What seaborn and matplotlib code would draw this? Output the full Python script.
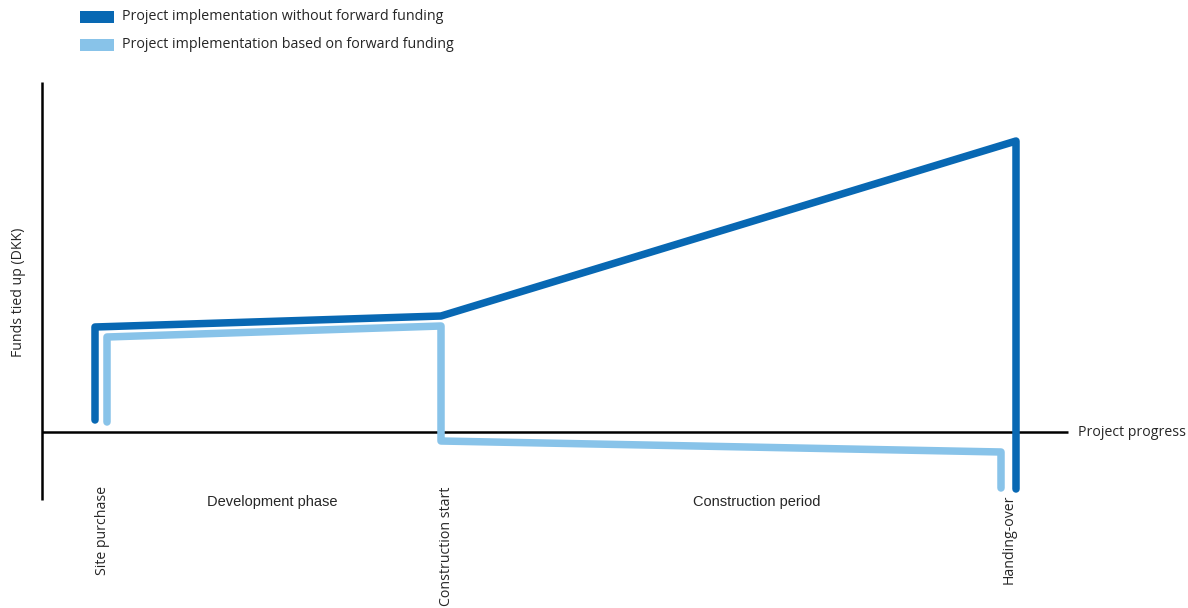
import matplotlib
matplotlib.use("Agg")
import matplotlib.pyplot as plt
import seaborn as sns
import pandas as pd
from matplotlib.patches import Rectangle

sns.set_theme(style="white")
plt.rcParams['font.family'] = ['Open Sans', 'DejaVu Sans']

# Conceptual data (progress, funds tied up); baseline = 0
without_x = [53, 53, 399, 974, 974]
without_y = [12, 105, 116, 291, -57]
forward_x = [65, 65, 399, 399, 959, 959]
forward_y = [10, 95, 106, -9, -20, -56]

milestones = ["Site purchase", "Construction start", "Handing-over"]
milestone_x = [60, 404, 967]
phases = ["Development phase", "Construction period"]
phase_x = [230, 715]
series_names = ["Project implementation without forward funding",
                "Project implementation based on forward funding"]
colors = ["#0868b3", "#88c3e9"]

fs = 10.2
label_top = [-54, -55, -62]

fig = plt.figure(figsize=(11.88, 6.08), dpi=100)
ax = fig.add_axes([0, 0, 1, 1])
ax.set_xlim(-42, 1146)
ax.set_ylim(-176, 432)
ax.axis("off")

# axes
ax.plot([0, 0], [350, -68], color="black", lw=1.8, solid_capstyle="butt")
ax.plot([0, 1026], [0, 0], color="black", lw=1.8, solid_capstyle="butt")
ax.text(1036, 0, "Project progress", ha="left", va="center", fontsize=fs)
ax.text(-23, 140, "Funds tied up (DKK)", rotation=90, ha="center", va="center", fontsize=fs)

df1 = pd.DataFrame({"x": without_x, "y": without_y})
df2 = pd.DataFrame({"x": forward_x, "y": forward_y})
sns.lineplot(data=df2, x="x", y="y", sort=False, estimator=None, ax=ax,
             color=colors[1], lw=5.4, solid_capstyle="round", solid_joinstyle="round")
sns.lineplot(data=df1, x="x", y="y", sort=False, estimator=None, ax=ax,
             color=colors[0], lw=5.4, solid_capstyle="round", solid_joinstyle="round")

for name, x, yt in zip(milestones, milestone_x, label_top):
    ax.text(x, yt, name, rotation=90, ha="center", va="top", fontsize=fs)
for name, x in zip(phases, phase_x):
    ax.text(x, -70, name, ha="center", va="center", fontsize=10.5,
            family=["Liberation Sans", "DejaVu Sans"])

# legend
leg_y = [415, 387]
for name, c, yy in zip(series_names, colors, leg_y):
    ax.add_patch(Rectangle((38, yy - 6), 34, 12, color=c, lw=0))
    ax.text(80, yy, name, ha="left", va="center", fontsize=10.3)

fig.savefig("out.png", dpi=100)
